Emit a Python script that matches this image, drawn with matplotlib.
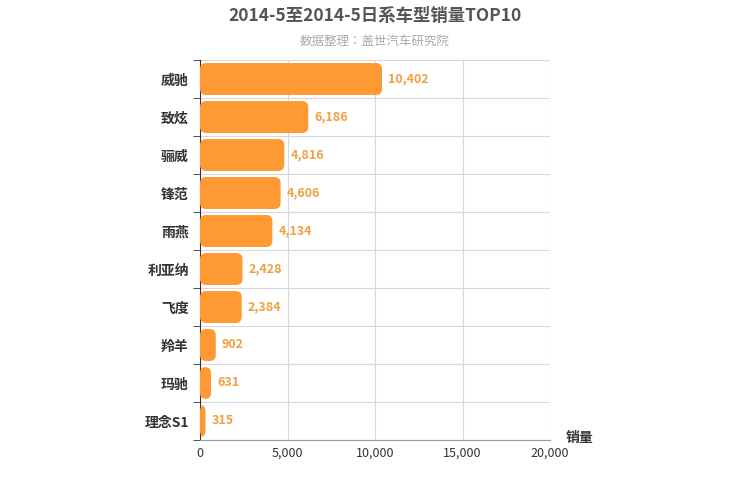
import matplotlib.pyplot as plt
from matplotlib.patches import FancyBboxPatch

plt.rcParams['font.family'] = 'sans-serif'
plt.rcParams['font.sans-serif'] = ['Noto Sans CJK JP', 'Noto Sans CJK SC', 'Noto Sans CJK TC',
                                   'Noto Sans CJK KR', 'DejaVu Sans']

models = ['威驰', '致炫', '骊威', '锋范', '雨燕', '利亚纳', '飞度', '羚羊', '玛驰', '理念S1']
sales = [10402, 6186, 4816, 4606, 4134, 2428, 2384, 902, 631, 315]
xticks = [0, 5000, 10000, 15000, 20000]

bar_color = '#ff9933'

fig = plt.figure(figsize=(7.5, 5), dpi=100)
ax = fig.add_axes([200/750, 1-440/500, 350/750, 380/500])

n = len(models)
h = 0.84
for i, v in enumerate(sales):
    y = n - 1 - i
    p = FancyBboxPatch((0, y - h/2), v, h,
                       boxstyle='round,pad=0,rounding_size=340',
                       mutation_aspect=0.16/340,
                       fc=bar_color, ec='none', zorder=3)
    ax.add_patch(p)
    ax.text(v + 350, y, f'{v:,}', va='center', ha='left', color='#f0a040',
            fontsize=9, fontweight='bold', zorder=4)

ax.set_xlim(0, 20000)
ax.set_ylim(-0.5, n - 0.5)
ax.set_xticks(xticks)
ax.set_xticklabels([f'{t:,}' for t in xticks], fontsize=9, color='#333333')
ax.set_yticks(range(n))
ax.set_yticklabels(models[::-1], fontsize=10, fontweight='bold', color='#333333')
ax.set_yticks([k - 0.5 for k in range(n + 1)], minor=True)
ax.tick_params(axis='y', which='major', length=0, pad=8)
ax.tick_params(axis='y', which='minor', length=5, color='#333333', direction='out')
ax.tick_params(axis='x', length=0, pad=5)

ax.grid(True, axis='x', color='#d8d8d8', lw=0.8, zorder=0)
ax.grid(True, axis='y', which='minor', color='#d8d8d8', lw=0.8, zorder=0)
for s in ['top', 'right']:
    ax.spines[s].set_visible(False)
ax.spines['left'].set_color('#333333')
ax.spines['bottom'].set_color('#999999')

fig.text(0.5, 0.968, '2014-5至2014-5日系车型销量TOP10', ha='center', va='center',
         fontsize=12.5, fontweight='bold', color='#555555')
fig.text(0.5, 0.917, '数据整理：盖世汽车研究院', ha='center', va='center',
         fontsize=9, color='#aaaaaa')
fig.text(580/750, 1-438/500, '销量', ha='center', va='center',
         fontsize=10, fontweight='bold', color='#333333')

fig.savefig('out.png', dpi=100)
